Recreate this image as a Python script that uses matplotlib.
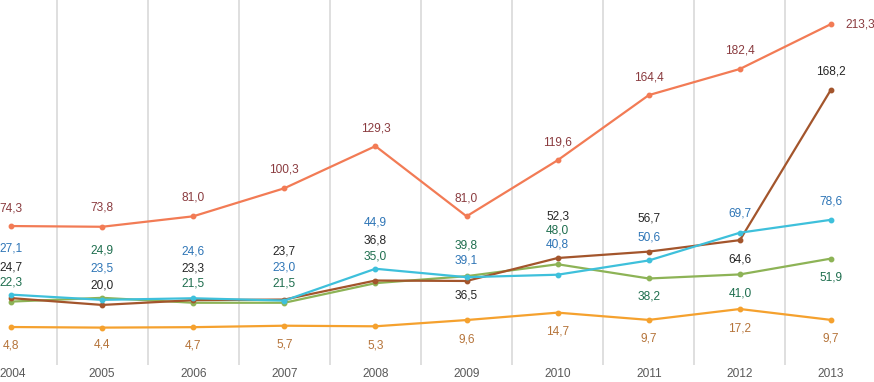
import matplotlib
matplotlib.use("Agg")
import matplotlib.pyplot as plt
import matplotlib.transforms as mtransforms

years = ["2004", "2005", "2006", "2007", "2008", "2009", "2010", "2011", "2012", "2013"]

s_red = [74.3, 73.8, 81.0, 100.3, 129.3, 81.0, 119.6, 164.4, 182.4, 213.3]
s_cyan = [27.1, 23.5, 24.6, 23.0, 44.9, 39.1, 40.8, 50.6, 69.7, 78.6]
s_brown = [24.7, 20.0, 23.3, 23.7, 36.8, 36.5, 52.3, 56.7, 64.6, 168.2]
s_green = [22.3, 24.9, 21.5, 21.5, 35.0, 39.8, 48.0, 38.2, 41.0, 51.9]
s_orange = [4.8, 4.4, 4.7, 5.7, 5.3, 9.6, 14.7, 9.7, 17.2, 9.7]

# label offsets in pixels (dx, dy up)
off_red_y = [18, 19, 19, 19, 18, 18, 18, 18, 18, 0]
off_red_x = [0, 0, 0, 0, 0, 0, 0, 0, 0, 29]
off_cyan_y = [46, 31, 47, 33, 46, 17, 30, 23, 19, 18]
off_brown_y = [31, 19, 32, 48, 40, -15, 42, 33, -19, 18]
off_green_y = [19, 47, 19, 19, 27, 31, 34, -18, -19, -19]
off_orange_y = [-18, -17, -18, -19, -19, -19, -19, -19, -19, -19]

plt.rcParams['font.family'] = ['Liberation Sans', 'DejaVu Sans']

fig = plt.figure(figsize=(8.74, 3.82), dpi=100)
W, H = 874, 382
x0px, x9px = 11, 831
step = (x9px - x0px) / 9
left_px = x0px - step / 2
ax = fig.add_axes([left_px / W, (H - 365) / H, 10 * step / W, 365 / H])

scale = 1.453
zero_px = 334
ax.set_xlim(-0.5, 9.5)
ax.set_ylim(-(365 - zero_px) / scale, zero_px / scale)

for xg in [i + 0.5 for i in range(-1, 10)]:
    ax.axvline(xg, color="#D6D6D6", lw=1.1, zorder=0)

xs = list(range(len(years)))

series = [
    (s_orange, "#F5A12E", "#B5743A", off_orange_y, [0] * 10),
    (s_green, "#8DB356", "#1E6E4E", off_green_y, [0] * 10),
    (s_brown, "#A3552C", "#262626", off_brown_y, [0] * 10),
    (s_cyan, "#3EC0DB", "#2E75B6", off_cyan_y, [0] * 10),
    (s_red, "#F27B55", "#8A3B3F", off_red_y, off_red_x),
]

for vals, lc, tc, offy, offx in series:
    ax.plot(xs, vals, color=lc, lw=1.6, marker="o", markersize=3.2, zorder=3)
    for x, v, dy, dx in zip(xs, vals, offy, offx):
        ax.annotate(f"{v:.1f}".replace(".", ","), (x, v), xytext=(dx, dy),
                    textcoords="offset pixels", ha="center", va="center",
                    fontsize=8.6, color=tc, zorder=5)

ax.set_xticks(xs)
labels = ax.set_xticklabels(years, fontsize=8.6, color="#595959")
ax.tick_params(axis="x", length=0, pad=2.5)
labels[0].set_transform(labels[0].get_transform() +
                        mtransforms.ScaledTranslation(2 / 100, 0, fig.dpi_scale_trans))
ax.set_yticks([])
for sp in ax.spines.values():
    sp.set_visible(False)

fig.savefig("out.png", dpi=100)
